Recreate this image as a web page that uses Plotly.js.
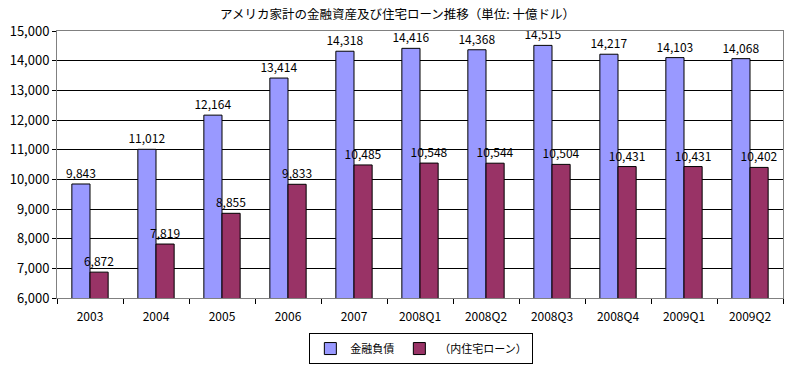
<!DOCTYPE html>
<html><head><meta charset="utf-8">
<script src="https://cdn.plot.ly/plotly-3.0.1.min.js"></script>
<style>body{margin:0;background:#fff}#c{width:792px;height:366px}</style>
</head><body><div id="c"></div>
<script>
const categories = ["2003","2004","2005","2006","2007","2008Q1","2008Q2","2008Q3","2008Q4","2009Q1","2009Q2"];
const liabilities = [9843,11012,12164,13414,14318,14416,14368,14515,14217,14103,14068];
const mortgages = [6872,7819,8855,9833,10485,10548,10544,10504,10431,10431,10402];
const seriesNames = ["金融負債","（内住宅ローン）"];
const fontFam = "'Noto Sans CJK JP', 'DejaVu Sans', sans-serif";
const fmt = v => v.toLocaleString('en-US');
const traces = [
  {type:'bar', x:categories, y:liabilities, name:seriesNames[0], marker:{color:'#9999FF', line:{color:'#000', width:1}},
   text:liabilities.map(fmt), textposition:'outside', constraintext:'none', cliponaxis:false, textfont:{size:12,color:'#000'}},
  {type:'bar', x:categories, y:mortgages, name:seriesNames[1], marker:{color:'#993366', line:{color:'#000', width:1}},
   text:mortgages.map(fmt), textposition:'outside', constraintext:'none', cliponaxis:false, textfont:{size:12,color:'#000'}}
];
const layout = {
  width:792, height:366,
  margin:{l:57, r:9, t:31, b:68},
  paper_bgcolor:'#fff', plot_bgcolor:'#fff',
  font:{family:fontFam, size:12, color:'#000'},
  title:{text:'アメリカ家計の金融資産及び住宅ローン推移（単位: 十億ドル）', x:0.502, xanchor:'center', y:0.96, yanchor:'middle', font:{size:12.5}},
  barmode:'group', bargap:0.45, bargroupgap:0,
  showlegend:true,
  legend:{orientation:'h', xref:'container', x:0.532, xanchor:'center', yref:'container', y:0.09, yanchor:'top', bordercolor:'#000', borderwidth:1, font:{size:11}, itemwidth:30, tracegroupgap:0},
  xaxis:{type:'category', automargin:false, showline:true, linecolor:'#808080', mirror:true, ticks:'outside', tickson:'boundaries', ticklen:5, tickcolor:'#000', tickfont:{size:12}, ticklabelstandoff:8, showgrid:false},
  yaxis:{range:[6000,15000], automargin:false, dtick:1000, tickformat:',d', showgrid:true, gridcolor:'#000', gridwidth:1, showline:true, linecolor:'#808080', mirror:true, ticks:'outside', ticklen:4, tickcolor:'#000', tickfont:{size:13}, zeroline:false}
};
Plotly.newPlot('c', traces, layout, {displayModeBar:false, staticPlot:true});
</script></body></html>
